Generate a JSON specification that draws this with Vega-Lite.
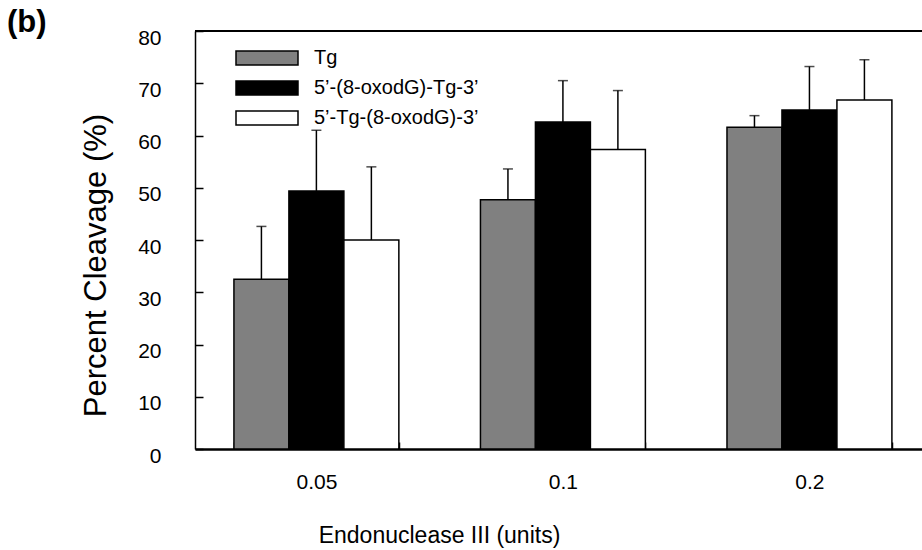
{
  "$schema": "https://vega.github.io/schema/vega-lite/v6.json",
  "autosize": {"type": "none"},
  "padding": {"left": 195, "top": 31, "right": 0, "bottom": 101},
  "width": 727,
  "height": 418,
  "config": {
    "view": {"stroke": null},
    "font": "Liberation Sans",
    "axis": {"grid": false, "domainColor": "black", "tickColor": "black", "labelColor": "black", "titleColor": "black", "titleFontWeight": "normal"}
  },
  "title": {"text": "(b)", "anchor": "start", "frame": "group", "fontSize": 31, "fontWeight": "bold", "color": "black", "dx": -188, "offset": 0, "dy": 12},
  "data": {
    "values": [
      {"dose": "0.05", "series": "Tg", "value": 32.5, "upper": 42.6},
      {"dose": "0.05", "series": "5’-(8-oxodG)-Tg-3’", "value": 49.4, "upper": 61.0},
      {"dose": "0.05", "series": "5’-Tg-(8-oxodG)-3’", "value": 40.0, "upper": 54.0},
      {"dose": "0.1", "series": "Tg", "value": 47.7, "upper": 53.6},
      {"dose": "0.1", "series": "5’-(8-oxodG)-Tg-3’", "value": 62.6, "upper": 70.5},
      {"dose": "0.1", "series": "5’-Tg-(8-oxodG)-3’", "value": 57.3, "upper": 68.6},
      {"dose": "0.2", "series": "Tg", "value": 61.6, "upper": 63.8},
      {"dose": "0.2", "series": "5’-(8-oxodG)-Tg-3’", "value": 64.9, "upper": 73.2},
      {"dose": "0.2", "series": "5’-Tg-(8-oxodG)-3’", "value": 66.8, "upper": 74.5}
    ]
  },
  "encoding": {
    "x": {
      "field": "dose", "type": "nominal", "sort": ["0.05", "0.1", "0.2"],
      "scale": {"paddingInner": 0.331, "paddingOuter": 0.14, "align": 0.564},
      "axis": {
        "title": "Endonuclease III  (units)", "titleFontSize": 23, "titleX": 244, "titleY": 86, "titleBaseline": "middle",
        "labelAngle": 0, "labelFontSize": 21, "labelPadding": 29,
        "tickBand": "extent", "tickSize": -7, "tickWidth": 1.5, "domainWidth": 2.5
      }
    },
    "xOffset": {"field": "series", "type": "nominal", "sort": ["Tg", "5’-(8-oxodG)-Tg-3’", "5’-Tg-(8-oxodG)-3’"], "scale": {"paddingInner": 0, "paddingOuter": 0}}
  },
  "layer": [
    {
      "mark": {"type": "bar", "stroke": "black", "strokeWidth": 1.5},
      "encoding": {
        "y": {
          "field": "value", "type": "quantitative",
          "scale": {"domain": [0, 80], "nice": false},
          "axis": {
            "title": "Percent Cleavage (%)", "titleFontSize": 31, "titleX": -99, "titleY": 234, "titleBaseline": "middle",
            "values": [0, 10, 20, 30, 40, 50, 60, 70, 80], "labelFontSize": 21, "labelPadding": 42, "labelOffset": 7,
            "tickSize": -8, "tickWidth": 1.5, "domainWidth": 1.5
          }
        },
        "color": {
          "field": "series", "type": "nominal",
          "scale": {"domain": ["Tg", "5’-(8-oxodG)-Tg-3’", "5’-Tg-(8-oxodG)-3’"], "range": ["#808080", "#000000", "#ffffff"]},
          "legend": {
            "title": null, "orient": "none", "legendX": 61, "legendY": 16,
            "symbolType": "M-3.1,-0.7H3.1V0.7H-3.1Z", "symbolSize": 400,
            "symbolStrokeColor": "black", "symbolStrokeWidth": 1.5, "symbolOpacity": 1,
            "labelFontSize": 20, "labelColor": "black", "labelOffset": 36, "labelLimit": 400, "rowPadding": 9
          }
        }
      }
    },
    {
      "mark": {"type": "rule", "color": "black", "strokeWidth": 1.5},
      "encoding": {
        "y": {"field": "value", "type": "quantitative"},
        "y2": {"field": "upper"}
      }
    },
    {
      "mark": {"type": "tick", "color": "black", "thickness": 1.5, "size": 10, "orient": "horizontal"},
      "encoding": {
        "y": {"field": "upper", "type": "quantitative"}
      }
    },
    {
      "mark": {"type": "rule", "color": "black", "strokeWidth": 1.5},
      "encoding": {"y": {"datum": 80}, "x": null, "xOffset": null}
    }
  ]
}
